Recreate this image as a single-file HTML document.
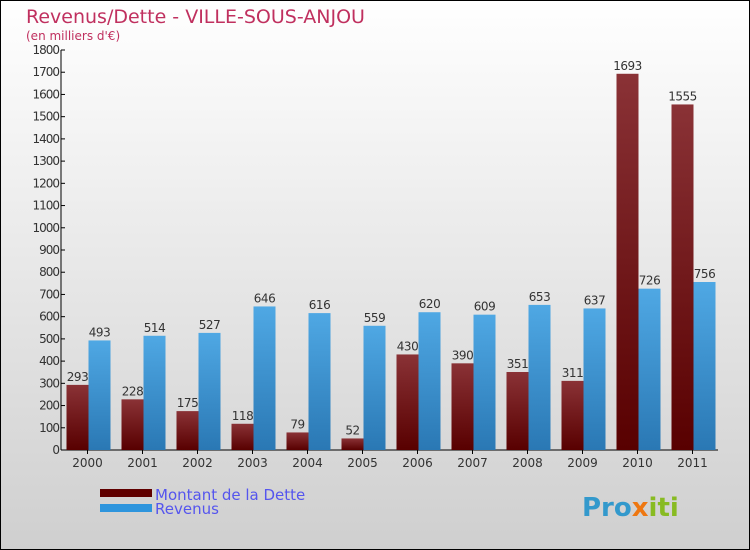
<!DOCTYPE html>
<html><head><meta charset="utf-8"><style>
body{margin:0}
#c{width:750px;height:550px;position:relative;overflow:hidden}
text{font-family:"DejaVu Sans","Liberation Sans",sans-serif}
</style></head><body>
<div id="c">
<svg id="s" width="750" height="550" xmlns="http://www.w3.org/2000/svg">
<defs>
<linearGradient id="bg" x1="0" y1="0" x2="0" y2="1"><stop offset="0" stop-color="#ffffff"/><stop offset="1" stop-color="#cfcfcf"/></linearGradient>
<linearGradient id="gd" x1="0" y1="0" x2="0" y2="1"><stop offset="0" stop-color="#8a3236"/><stop offset="1" stop-color="#580000"/></linearGradient>
<linearGradient id="gr" x1="0" y1="0" x2="0" y2="1"><stop offset="0" stop-color="#4fa8e4"/><stop offset="1" stop-color="#2a78b4"/></linearGradient>
</defs>
<rect x="0.5" y="0.5" width="749" height="549" fill="url(#bg)" stroke="#000"/>
<text x="26" y="23" font-size="19" fill="#c0305f">Revenus/Dette - VILLE-SOUS-ANJOU</text>
<text x="26" y="40" font-size="12" fill="#c0305f">(en milliers d'€)</text>
<g id="plot"></g>
<rect x="100" y="489" width="52" height="8" fill="#600000"/>
<rect x="100" y="504" width="52" height="8" fill="#2e95dd"/>
<text x="155" y="500" font-size="15" fill="#5555ee">Montant de la Dette</text>
<text x="155" y="514" font-size="15" fill="#5555ee">Revenus</text>
<text x="582" y="516" font-size="26" font-weight="bold" fill="#3399cc">Pro<tspan fill="#ee7711">x</tspan><tspan fill="#88bb22">iti</tspan></text>
</svg>
</div>
<script>
const categories=["2000","2001","2002","2003","2004","2005","2006","2007","2008","2009","2010","2011"];
const dette=[293,228,175,118,79,52,430,390,351,311,1693,1555];
const revenus=[493,514,527,646,616,559,620,609,653,637,726,756];
const yTicks=[0,100,200,300,400,500,600,700,800,900,1000,1100,1200,1300,1400,1500,1600,1700,1800];
const NS="http://www.w3.org/2000/svg";
const g=document.getElementById('plot');
const x0=60,step=55,yBase=450,yTop=50,yMax=1800;
function y(v){return yBase-(v/yMax)*(yBase-yTop);}
function cx(i){return x0+step*(i+0.5);}
function el(t,a){const e=document.createElementNS(NS,t);for(const k in a)e.setAttribute(k,a[k]);g.appendChild(e);return e;}
let ax=el('line',{x1:61,y1:50,x2:61,y2:450,stroke:'#000'});


let bx=el('line',{x1:61,y1:450,x2:718,y2:450,stroke:'#000'});


yTicks.forEach(v=>{
 const t=el('line',{x1:61,y1:y(v),x2:65,y2:y(v),stroke:'#000'});
 
 
 const l=el('text',{x:59,y:y(v)+4,'font-size':12,'text-anchor':'end',fill:'#333','letter-spacing':'-1'});
 l.textContent=v;
 
 
});
categories.forEach((c,i)=>{
 const m=cx(i);
 const t=el('line',{x1:m,y1:450,x2:m,y2:454,stroke:'#000'});
 
 
 const l=el('text',{x:m,y:467,'font-size':12,'text-anchor':'middle',fill:'#333'});
 l.textContent=c;
 
 
 const b1=el('rect',{x:m-21,y:y(dette[i]),width:22,height:yBase-y(dette[i]),fill:'url(#gd)'});
 
 
 const b2=el('rect',{x:m+1,y:y(revenus[i]),width:22,height:yBase-y(revenus[i]),fill:'url(#gr)'});
 
 
 const v1=el('text',{x:m-10,y:y(dette[i])-4,'font-size':12,'text-anchor':'middle',fill:'#333','letter-spacing':'-0.5'});
 v1.textContent=dette[i];
 
 
 const v2=el('text',{x:m+12,y:y(revenus[i])-4,'font-size':12,'text-anchor':'middle',fill:'#333','letter-spacing':'-0.5'});
 v2.textContent=revenus[i];
 
 
});
</script>
</body></html>
